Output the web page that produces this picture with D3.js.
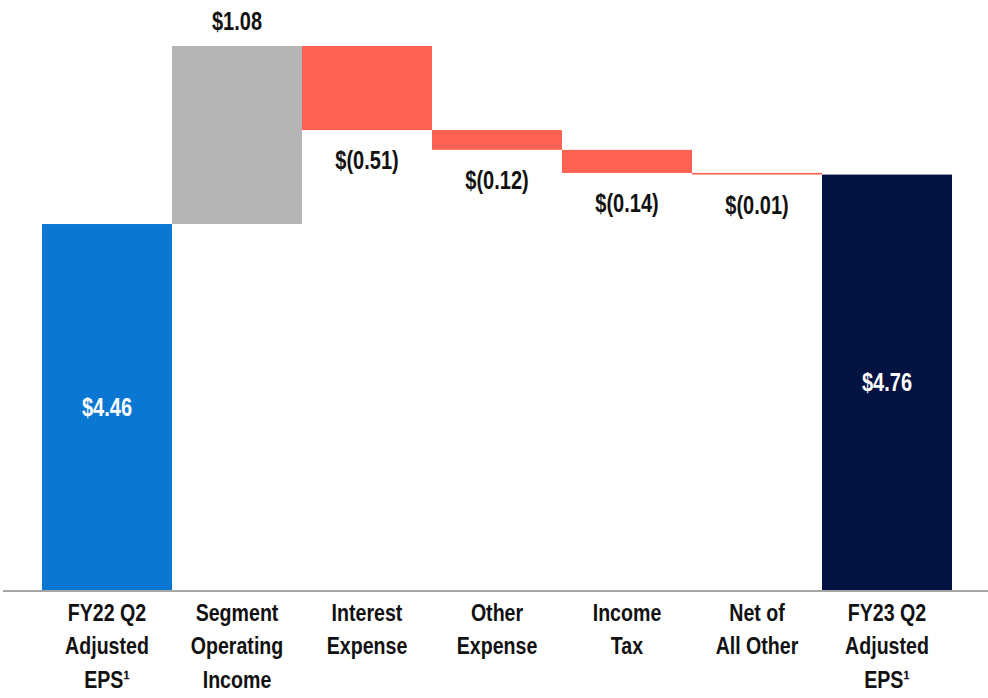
<!DOCTYPE html>
<html>
<head>
<meta charset="utf-8">
<script src="https://cdn.jsdelivr.net/npm/d3@7"></script>
<style>
  body { margin: 0; background: #fff; }
  text { font-family: "Liberation Sans", Arial, sans-serif; font-weight: bold; }
</style>
</head>
<body>
<div id="app"></div>
<script>
// waterfall data, values in $ per share
const categories = ['FY22 Q2|Adjusted|EPS¹', 'Segment|Operating|Income', 'Interest|Expense',
  'Other|Expense', 'Income|Tax', 'Net of|All Other', 'FY23 Q2|Adjusted|EPS¹'];
const values = [4.46, 1.08, -0.51, -0.12, -0.14, -0.01, 4.76];
const kinds = ['total', 'up', 'down', 'down', 'down', 'down', 'total'];
const valueLabels = ['$4.46', '$1.08', '$(0.51)', '$(0.12)', '$(0.14)', '$(0.01)', '$4.76'];

const width = 988, height = 698;
const colors = { first: '#0a77d3', up: '#b5b5b5', down: '#ff6152', last: '#021342' };
const narrow = 0.8; // fake the narrow face of the slide font

const svg = d3.select('#app').append('svg')
  .attr('width', width).attr('height', height);

// build running totals
let run = 0;
const bars = values.map((v, i) => {
  let y0, y1;
  if (kinds[i] === 'total') { y0 = null; y1 = v; run = v; }
  else { y0 = run; run = run + v; y1 = run; }
  return { i, v, y0, y1, kind: kinds[i], cat: categories[i], label: valueLabels[i] };
});

const x = d3.scaleBand().domain(d3.range(categories.length)).range([42, 952]).padding(0);
// axis floor is not zero on the original slide
const y = d3.scaleLinear().domain([2.24, 5.54]).range([590, 46]);

const barColor = (d) => d.kind === 'up' ? colors.up : d.kind === 'down' ? colors.down
  : (d.i === 0 ? colors.first : colors.last);

svg.append('g').selectAll('rect').data(bars).enter().append('rect')
  .attr('x', (d) => x(d.i))
  .attr('width', x.bandwidth())
  .attr('y', (d) => d.kind === 'total' ? y(d.y1) : y(Math.max(d.y0, d.y1)))
  .attr('height', (d) => d.kind === 'total' ? y.range()[0] - y(d.y1) : Math.abs(y(d.y0) - y(d.y1)))
  .attr('fill', barColor);

// baseline
svg.append('line')
  .attr('x1', 3).attr('x2', width)
  .attr('y1', 591).attr('y2', 591)
  .attr('stroke', '#a6a6a6').attr('stroke-width', 2);

const cx = (d) => x(d.i) + x.bandwidth() / 2;

// value labels
svg.append('g').selectAll('text').data(bars).enter().append('text')
  .attr('transform', (d) => {
    let ty;
    if (d.kind === 'total') ty = (y(d.y1) + y.range()[0]) / 2 + 9;
    else if (d.kind === 'up') ty = y(d.y1) - 16;
    else ty = y(d.y1) + 39;
    return `translate(${cx(d)},${ty}) scale(${narrow},1)`;
  })
  .attr('text-anchor', 'middle')
  .attr('font-size', 25)
  .attr('fill', (d) => d.kind === 'total' ? '#fff' : '#111')
  .text((d) => d.label);

// category labels
const cat = svg.append('g').selectAll('text').data(bars).enter().append('text')
  .attr('transform', (d) => `translate(${cx(d)},621) scale(${narrow},1)`)
  .attr('text-anchor', 'middle')
  .attr('font-size', 24.5)
  .attr('fill', '#111');
cat.selectAll('tspan').data((d) => d.cat.split('|'))
  .enter().append('tspan')
  .attr('x', 0)
  .attr('y', (s, j) => j * 33.5)
  .text((s) => s);
</script>
</body>
</html>
